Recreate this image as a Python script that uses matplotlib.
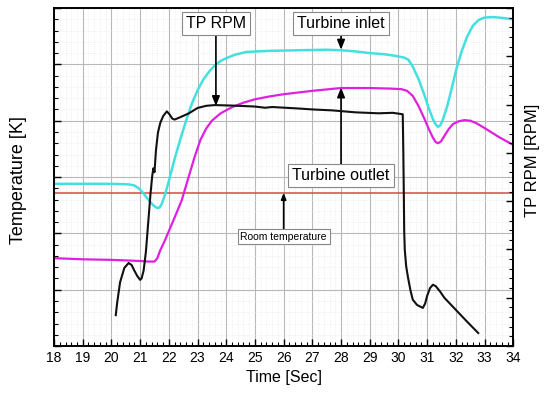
import numpy as np
import matplotlib.pyplot as plt
from matplotlib.ticker import MultipleLocator, NullFormatter

plt.rcParams['font.family'] = ['Liberation Sans', 'DejaVu Sans']

# turbine inlet temperature (left axis)
t_inlet = [18, 20.0, 20.6, 20.8, 20.95, 21.1, 21.25, 21.4, 21.5, 21.6, 21.68, 21.75, 21.85,
           22.0, 22.2, 22.4, 22.6, 22.8, 23.0, 23.2, 23.4, 23.6, 23.8, 24.0, 24.3, 24.7,
           25.5, 26.5, 27.5, 28.0, 28.5, 29.0, 29.5, 29.9, 30.2, 30.35, 30.5, 30.7, 30.9,
           31.05, 31.2, 31.3, 31.38, 31.46, 31.55, 31.7, 31.85, 32.0, 32.2, 32.4, 32.6,
           32.8, 33.0, 33.3, 33.7, 34.0]
T_inlet = [28.8, 28.8, 28.7, 28.5, 28.0, 27.2, 26.2, 25.3, 24.8, 24.5, 24.6, 25.2, 26.6,
           29.3, 33.2, 36.7, 40.0, 43.0, 45.4, 47.3, 48.7, 49.8, 50.6, 51.1, 51.7, 52.2,
           52.4, 52.5, 52.6, 52.5, 52.3, 52.0, 51.8, 51.5, 51.2, 50.8, 49.6, 47.4, 44.6,
           42.3, 40.3, 39.3, 38.9, 39.2, 40.2, 42.6, 45.6, 48.8, 52.3, 55.0, 56.9,
           57.9, 58.3, 58.4, 58.2, 58.0]

# turbine outlet temperature (left axis)
t_outlet = [18, 19, 20, 21, 21.3, 21.5, 21.6, 21.7, 21.85, 22.0, 22.2, 22.45, 22.7, 22.9,
            23.1, 23.3, 23.5, 23.8, 24.2, 24.6, 25.0, 25.5, 26.0, 27.0, 28.0, 29.0, 29.7,
            30.1, 30.3, 30.5, 30.7, 30.9, 31.05, 31.2, 31.3, 31.38, 31.48, 31.6, 31.75,
            31.9, 32.1, 32.3, 32.5, 32.7, 33.0, 33.5, 34.0]
T_outlet = [15.6, 15.4, 15.3, 15.1, 15.0, 15.0, 15.6, 17.0, 18.6, 20.4, 22.8, 25.9, 30.2,
            33.6, 36.6, 38.6, 40.0, 41.3, 42.4, 43.2, 43.8, 44.3, 44.7, 45.3, 45.8, 45.8,
            45.7, 45.6, 45.3, 44.4, 42.6, 40.4, 38.6, 37.0, 36.2, 36.0, 36.3, 37.3, 38.5,
            39.4, 39.9, 40.1, 40.0, 39.6, 38.7, 37.1, 35.7]

# TP speed (right axis)
t_rpm = [20.15, 20.2, 20.3, 20.45, 20.6, 20.7, 20.8, 20.9, 21.0, 21.05, 21.12, 21.2, 21.28,
         21.36, 21.42, 21.46, 21.5, 21.55, 21.62, 21.7, 21.8, 21.93, 22.02, 22.12, 22.2,
         22.4, 22.7, 23.0, 23.3, 23.6, 24.2, 25.0, 25.35, 25.6, 25.9, 26.5, 27.0, 27.7,
         28.5, 29.3, 29.8, 30.15, 30.17, 30.19, 30.2, 30.22, 30.27, 30.33, 30.42, 30.5,
         30.65, 30.85, 30.93, 31.0, 31.1, 31.2, 31.3, 31.45, 31.6, 32.0, 32.4, 32.78]
rpm = [640, 900, 1320, 1620, 1720, 1680, 1560, 1450, 1370, 1400, 1560, 1950, 2550,
       3150, 3520, 3680, 3600, 4050, 4420, 4620, 4760, 4860, 4800, 4710, 4690,
       4740, 4820, 4930, 4975, 4990, 4980, 4960, 4935, 4950, 4940, 4920, 4900, 4880,
       4840, 4820, 4830, 4800, 4000, 3000, 2400, 2000, 1650, 1430, 1150, 960,
       850, 790, 880, 1040, 1200, 1270, 1240, 1130, 1000, 750, 500, 270]

room_T = 27.2

fig = plt.figure(figsize=(5.46, 4.01), dpi=100)
ax = fig.add_axes([0.099, 0.137, 0.841, 0.843])
ax2 = ax.twinx()

ax.set_xlim(18, 34)
ax.set_ylim(0, 60)
ax2.set_ylim(0, 7000)

ax.xaxis.set_major_locator(MultipleLocator(1))
ax.xaxis.set_minor_locator(MultipleLocator(0.2))
ax.yaxis.set_major_locator(MultipleLocator(10))
ax.yaxis.set_minor_locator(MultipleLocator(2))
ax.yaxis.set_major_formatter(NullFormatter())
ax2.yaxis.set_major_locator(MultipleLocator(1000))
ax2.yaxis.set_minor_locator(MultipleLocator(200))
ax2.yaxis.set_major_formatter(NullFormatter())

ax.grid(which='major', color='#b8b8b8', lw=0.8)
ax.grid(which='minor', color='#e6e6e6', lw=0.5, ls=':')
ax.set_axisbelow(True)

ax.tick_params(which='both', direction='in', top=False, labelsize=10)
ax.tick_params(which='major', length=5, width=1)
ax.tick_params(which='minor', length=3, width=0.8)
ax2.tick_params(which='both', direction='in')
ax2.tick_params(which='major', length=5, width=1)
ax2.tick_params(which='minor', length=3, width=0.8)
for a in (ax, ax2):
    for s in a.spines.values():
        s.set_linewidth(1.2)

ax.axhline(room_T, color='#d84848', lw=1.1)
ax.plot(t_outlet, T_outlet, color='#e020e0', lw=1.6)
ax.plot(t_inlet, T_inlet, color='#44e0e0', lw=1.8)
ax2.plot(t_rpm, rpm, color='#111111', lw=1.5)

ax.set_xlabel('Time [Sec]', fontsize=11.5, labelpad=4)
ax.set_ylabel('Temperature [K]', fontsize=13)
ax.yaxis.set_label_coords(-0.058, 0.49)
ax2.set_ylabel('TP RPM [RPM]', fontsize=12, rotation=90)
ax2.yaxis.set_label_coords(1.026, 0.55)

box = dict(boxstyle='square,pad=0.25', fc='white', ec='#888888', lw=0.8)
arr = dict(arrowstyle='-|>,head_length=0.5,head_width=0.2', color='black', lw=1.2, shrinkA=0, shrinkB=0)

ax.annotate('TP RPM', xy=(23.64, 42.6), xytext=(23.64, 57.3), fontsize=11.5,
            ha='center', va='center', bbox=box, arrowprops=arr)
ax.annotate('Turbine inlet', xy=(28.0, 52.6), xytext=(28.0, 57.2), fontsize=11.5,
            ha='center', va='center', bbox=box, arrowprops=arr)
ax.annotate('Turbine outlet', xy=(28.0, 45.9), xytext=(28.0, 30.2), fontsize=11.5,
            ha='center', va='center', bbox=box, arrowprops=arr)
ax.annotate('Room temperature', xy=(26.0, room_T), xytext=(26.0, 19.4), fontsize=7.5,
            ha='center', va='center', bbox=box, arrowprops=arr)

fig.savefig('out.png', dpi=100)
